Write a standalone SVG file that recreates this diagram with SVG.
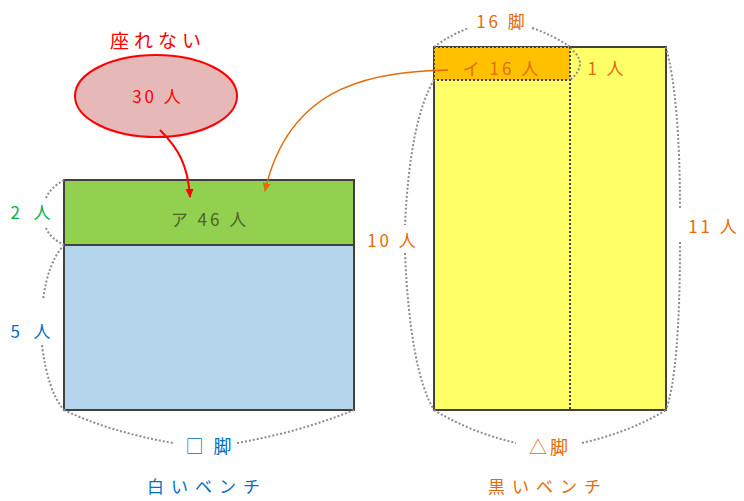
<svg xmlns="http://www.w3.org/2000/svg" width="744" height="501" viewBox="0 0 744 501">
<style>
text{font-family:"Noto Sans CJK JP","Noto Sans",sans-serif;font-size:17px;text-anchor:middle;letter-spacing:3px}
.box{stroke:#404040;stroke-width:2}
.brace{fill:none;stroke:#8c8c94;stroke-width:2;stroke-dasharray:2 2}
.red{fill:#ff0000}.green{fill:#00b050}.blue{fill:#0070c0}.orange{fill:#e36c09}.olive{fill:#4f6228}
</style>
<defs>
<marker id="ahR" markerWidth="10" markerHeight="10" refX="8" refY="5" orient="auto" markerUnits="userSpaceOnUse"><path d="M0,1 L9,5 L0,9 Z" fill="#ff0000"/></marker>
<marker id="ahO" markerWidth="10" markerHeight="10" refX="8" refY="5" orient="auto" markerUnits="userSpaceOnUse"><path d="M0,1 L9,5 L0,9 Z" fill="#e36c09"/></marker>
</defs>
<rect width="744" height="501" fill="#ffffff"/>
<g id="white-bench">
<rect x="64" y="245" width="290" height="165" fill="#b5d5ec" class="box"/>
<rect x="64" y="180" width="290" height="65" fill="#92d050" class="box"/>
<text x="210" y="226" class="olive">ア 46 人</text>
</g>
<g id="black-bench">
<rect x="434" y="47" width="232" height="363" fill="#ffff66" class="box"/>
<rect x="434" y="47" width="136" height="33" fill="#ffc000" stroke="#404040" stroke-width="2" stroke-dasharray="2 2"/>
<line x1="570" y1="47" x2="570" y2="410" stroke="#404040" stroke-width="2" stroke-dasharray="2 2"/>
<text x="502" y="75" class="orange">イ 16 人</text>
</g>
<g id="not-seated">
<ellipse cx="156" cy="96" rx="81" ry="41" fill="#e6b8b8" stroke="#ff0000" stroke-width="2"/>
<text x="158" y="103" class="red">30 人</text>
<text x="158" y="48" class="red" style="font-size:19px;letter-spacing:5px">座れない</text>
</g>
<g id="braces">
<path class="brace" d="M64,180 Q50,188 46,198"/>
<path class="brace" d="M46,228 Q50,238 64,245"/>
<path class="brace" d="M64,245 Q48,262 43,300"/>
<path class="brace" d="M42,345 Q48,392 64,410"/>
<path class="brace" d="M64,410 Q110,432 173,443"/>
<path class="brace" d="M237,443 Q300,432 354,410"/>
<path class="brace" d="M434,47 Q450,35 469,28"/>
<path class="brace" d="M532,28 Q555,36 570,47"/>
<path class="brace" d="M570,48 Q590,64 570,80"/>
<path class="brace" d="M434,80 Q410,120 405,225"/>
<path class="brace" d="M405,253 Q410,370 434,410"/>
<path class="brace" d="M666,47 Q680,100 680,210"/>
<path class="brace" d="M680,242 Q680,370 666,410"/>
<path class="brace" d="M434,410 Q470,432 516,443"/>
<path class="brace" d="M582,443 Q630,432 666,410"/>
</g>
<g id="labels">
<text x="33" y="219" class="green" style="letter-spacing:5px">2 人</text>
<text x="33" y="338" class="blue" style="letter-spacing:5px">5 人</text>
<text x="210" y="453" class="blue" style="font-size:18px">□ 脚</text>
<text x="207" y="493" class="blue" style="letter-spacing:7px">白いベンチ</text>
<text x="502" y="28" class="orange">16 脚</text>
<text x="607" y="75" class="orange">1 人</text>
<text x="393" y="247" class="orange">10 人</text>
<text x="714" y="233" class="orange">11 人</text>
<text x="550" y="454" class="orange" style="font-size:18px">△脚</text>
<text x="548" y="493" class="orange" style="letter-spacing:7px">黒いベンチ</text>
</g>
<g id="connectors">
<path d="M160,130 C178,148 188,165 190,197" fill="none" stroke="#ff0000" stroke-width="2" marker-end="url(#ahR)"/>
<path d="M448,70 C380,72 290,80 265,191" fill="none" stroke="#e36c09" stroke-width="1.5" marker-end="url(#ahO)"/>
</g>
</svg>
